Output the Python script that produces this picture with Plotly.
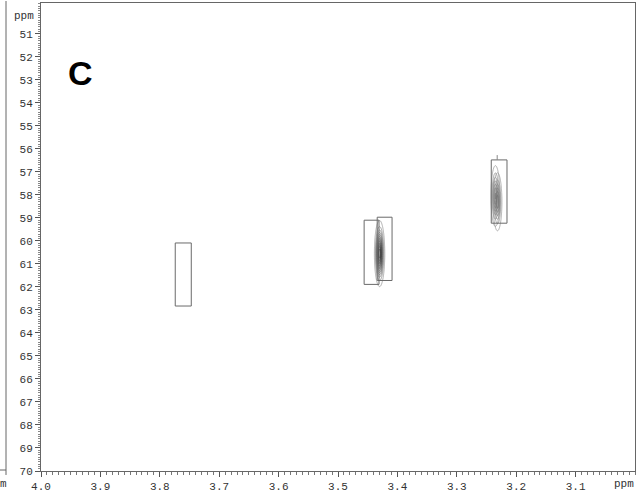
import numpy as np
import plotly.graph_objects as go

# ---- data ----
x_tick_vals = [4.0, 3.9, 3.8, 3.7, 3.6, 3.5, 3.4, 3.3, 3.2, 3.1]
x_tick_text = ["4.0", "3.9", "3.8", "3.7", "3.6", "3.5", "3.4", "3.3", "3.2", "3.1"]
y_tick_vals = list(range(51, 71))
y_tick_text = [str(v) for v in y_tick_vals]

# rectangles (integration / annotation boxes), ppm
box_x0 = [3.774, 3.456, 3.434, 3.242]
box_x1 = [3.747, 3.431, 3.409, 3.2155]
box_y0 = [60.09, 59.10, 58.97, 56.48]
box_y1 = [62.83, 61.89, 61.72, 59.23]

# cross peaks (centre, half-widths, relative intensity)
peak_x = [3.430, 3.2350, 3.2315]
peak_y = [60.55, 58.05, 58.30]
peak_sx = [0.0034, 0.0033, 0.0033]
peak_sy = [0.56, 0.58, 0.56]
peak_amp = [1.6, 0.80, 0.75]
contour_levels = [0.06, 0.12, 0.2, 0.3, 0.42, 0.56, 0.72, 0.9, 1.1, 1.3, 1.5]

fig = go.Figure()

for i in range(len(peak_x)):
    gx = np.linspace(peak_x[i] - 5 * peak_sx[i], peak_x[i] + 5 * peak_sx[i], 81)
    gy = np.linspace(peak_y[i] - 4 * peak_sy[i], peak_y[i] + 4 * peak_sy[i], 161)
    X, Y = np.meshgrid(gx, gy)
    Z = peak_amp[i] * np.exp(-0.5 * (((X - peak_x[i]) / peak_sx[i]) ** 2 + ((Y - peak_y[i]) / peak_sy[i]) ** 2))
    fig.add_trace(go.Contour(
        x=gx, y=gy, z=Z,
        contours=dict(start=contour_levels[0], end=contour_levels[-1], size=0.12, coloring="lines"),
        colorscale=[[0, "#9a9a9a"], [1, "#303030"]],
        line=dict(width=0.8),
        showscale=False, hoverinfo="skip",
    ))

for a, b, c, d in zip(box_x0, box_x1, box_y0, box_y1):
    fig.add_shape(type="rect", xref="x", yref="y", x0=a, x1=b, y0=c, y1=d,
                  line=dict(color="#6a6a6a", width=1))

# small tick above the right-hand box
fig.add_shape(type="line", xref="x", yref="y", x0=3.232, x1=3.232, y0=56.27, y1=56.48,
              line=dict(color="#888888", width=1))

mono = "Liberation Mono, Courier New, monospace"

fig.update_layout(
    width=638, height=495, autosize=False,
    margin=dict(l=41, r=3, t=2, b=20),
    paper_bgcolor="white", plot_bgcolor="white",
    showlegend=False,
    xaxis=dict(
        range=[4.0, 3.0], showgrid=False, zeroline=False,
        showline=True, linecolor="#666666", linewidth=1, mirror=True,
        tickmode="array", tickvals=x_tick_vals, ticktext=x_tick_text,
        ticks="outside", ticklen=5, tickcolor="#555555", tickwidth=1,
        tickfont=dict(family=mono, size=11, color="#333333"),
        minor=dict(dtick=0.01, ticks="outside", ticklen=3, tickcolor="#777777", showgrid=False),
    ),
    yaxis=dict(
        range=[70, 49.66], showgrid=False, zeroline=False,
        showline=True, linecolor="#666666", linewidth=1, mirror=True,
        tickmode="array", tickvals=y_tick_vals, ticktext=y_tick_text,
        ticks="outside", ticklen=5, tickcolor="#555555", tickwidth=1,
        tickfont=dict(family=mono, size=11, color="#333333"),
        minor=dict(dtick=0.1, ticks="outside", ticklen=2, tickcolor="#888888", showgrid=False),
    ),
)

W = 594.0
H = 473.0
def px(xp):
    return (xp - 41) / W
def py(yp):
    return (475 - yp) / H

# remnants of the neighbouring panel on the left edge
fig.add_shape(type="line", xref="paper", yref="paper", x0=px(6), x1=px(6), y0=py(0), y1=py(474),
              line=dict(color="#666666", width=1))
fig.add_shape(type="line", xref="paper", yref="paper", x0=px(0), x1=px(6), y0=py(474), y1=py(474),
              line=dict(color="#666666", width=1))
fig.add_shape(type="line", xref="paper", yref="paper", x0=px(6), x1=px(6), y0=py(474), y1=py(479),
              line=dict(color="#666666", width=1))

def label(xp, yp, text, font):
    fig.add_annotation(xref="paper", yref="paper", x=px(xp), y=py(yp), text=text, showarrow=False,
                       xanchor="center", yanchor="middle", font=font)

label(3, 488, "m", dict(family=mono, size=11, color="#333333"))
label(24, 15, "ppm", dict(family=mono, size=11, color="#333333"))
label(624, 488, "ppm", dict(family=mono, size=11, color="#333333"))
label(80, 73, "<b>C</b>", dict(family="Liberation Sans, Arial, sans-serif", size=34, color="#000000"))

fig.write_html("out.html")
